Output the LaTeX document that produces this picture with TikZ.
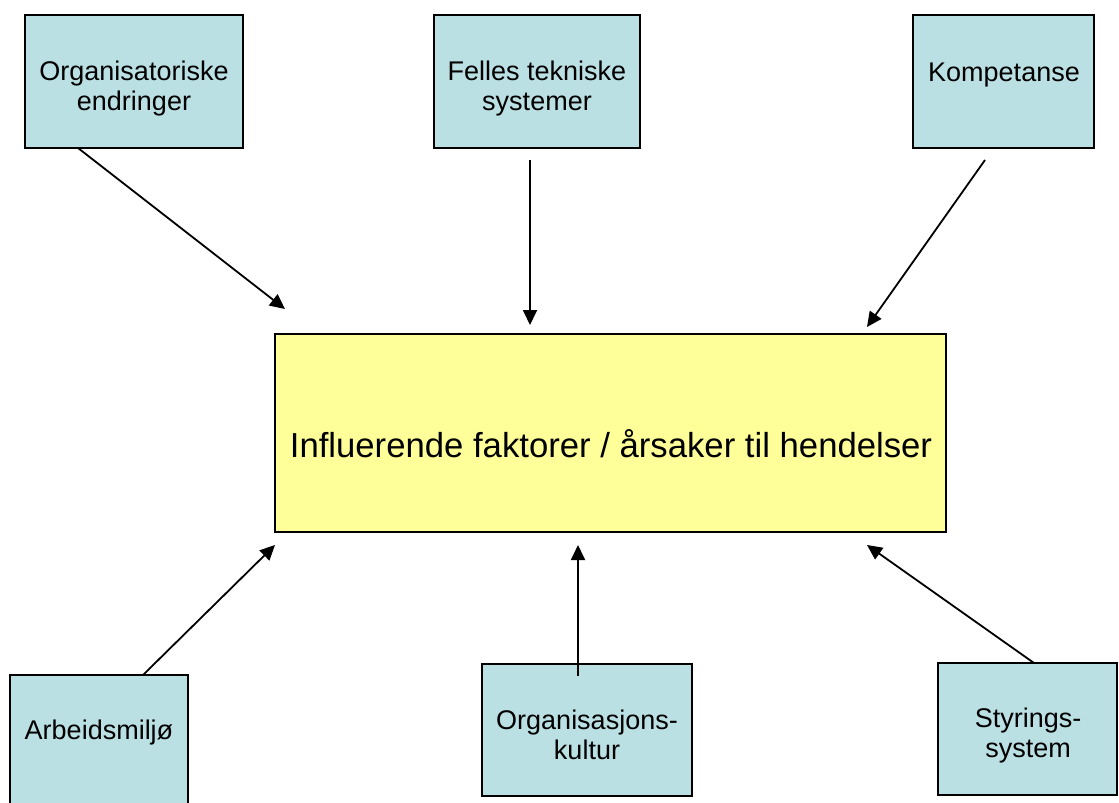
\documentclass[tikz,border=0pt]{standalone}
\usepackage{fontspec}
\setmainfont{Liberation Sans}
\usetikzlibrary{arrows.meta}
\definecolor{boxteal}{RGB}{187,224,227}
\definecolor{boxyellow}{RGB}{255,255,153}
\begin{document}
\begin{tikzpicture}[x=1pt,y=-1pt,
  factor/.style={draw=black,line width=2.2pt,fill=boxteal,inner sep=0pt},
  core/.style={draw=black,line width=2.2pt,fill=boxyellow,inner sep=0pt},
  factortext/.style={inner sep=0pt,align=center,anchor=base,
    font=\fontsize{27}{30}\selectfont},
  coretext/.style={inner sep=0pt,anchor=base,font=\fontsize{34.7}{40}\selectfont},
  link/.style={line width=1.8pt,-{Triangle[length=15pt,width=14pt]}}]
\useasboundingbox (0,0) rectangle (1119,803);
\clip (0,0) rectangle (1119,803);

% factor boxes (corners given as left/top and right/bottom)
\path[factor] (25,15) rectangle (243,148) node[pos=.5,inner sep=0pt] (org) {};
\path[factor] (434,15) rectangle (640,148) node[pos=.5,inner sep=0pt] (fel) {};
\path[factor] (913,15) rectangle (1094,148) node[pos=.5,inner sep=0pt] (kom) {};
\path[factor] (10,675) rectangle (188,840) node[pos=.5,inner sep=0pt] (arb) {};
\path[factor] (482,664) rectangle (692,796) node[pos=.5,inner sep=0pt] (kul) {};
\path[factor] (938,663) rectangle (1117,795) node[pos=.5,inner sep=0pt] (sty) {};

% central box
\path[core] (275,334) rectangle (946,532) node[pos=.5,inner sep=0pt] (mid) {};

% labels (base anchor sits on the last line's baseline)
\node[factortext] (orgT) at (134,110) {Organisatoriske\\endringer};
\node[factortext] (felT) at (537,110) {Felles tekniske\\systemer};
\node[factortext] (komT) at (1004,81) {Kompetanse};
\node[factortext] (arbT) at (99,739) {Arbeidsmiljø};
\node[factortext] (kulT) at (587,759) {Organisasjons-\\kultur};
\node[factortext] (styT) at (1028,757) {Styrings-\\system};
\node[coretext] (midT) at (611,457) {Influerende faktorer / årsaker til hendelser};

% connector ends
\coordinate (orgS) at (78,148);   \coordinate (orgE) at (285,309);
\coordinate (felS) at (530,160);  \coordinate (felE) at (530,325);
\coordinate (komS) at (985,160);  \coordinate (komE) at (867,327);
\coordinate (arbS) at (143,675);  \coordinate (arbE) at (275,545);
\coordinate (kulS) at (578,676);  \coordinate (kulE) at (578,545);
\coordinate (styS) at (1034,663); \coordinate (styE) at (867,545);

\draw[link] (orgS) -- (orgE);
\draw[link] (felS) -- (felE);
\draw[link] (komS) -- (komE);
\draw[link] (arbS) -- (arbE);
\draw[link] (kulS) -- (kulE);
\draw[link] (styS) -- (styE);
\end{tikzpicture}
\end{document}
